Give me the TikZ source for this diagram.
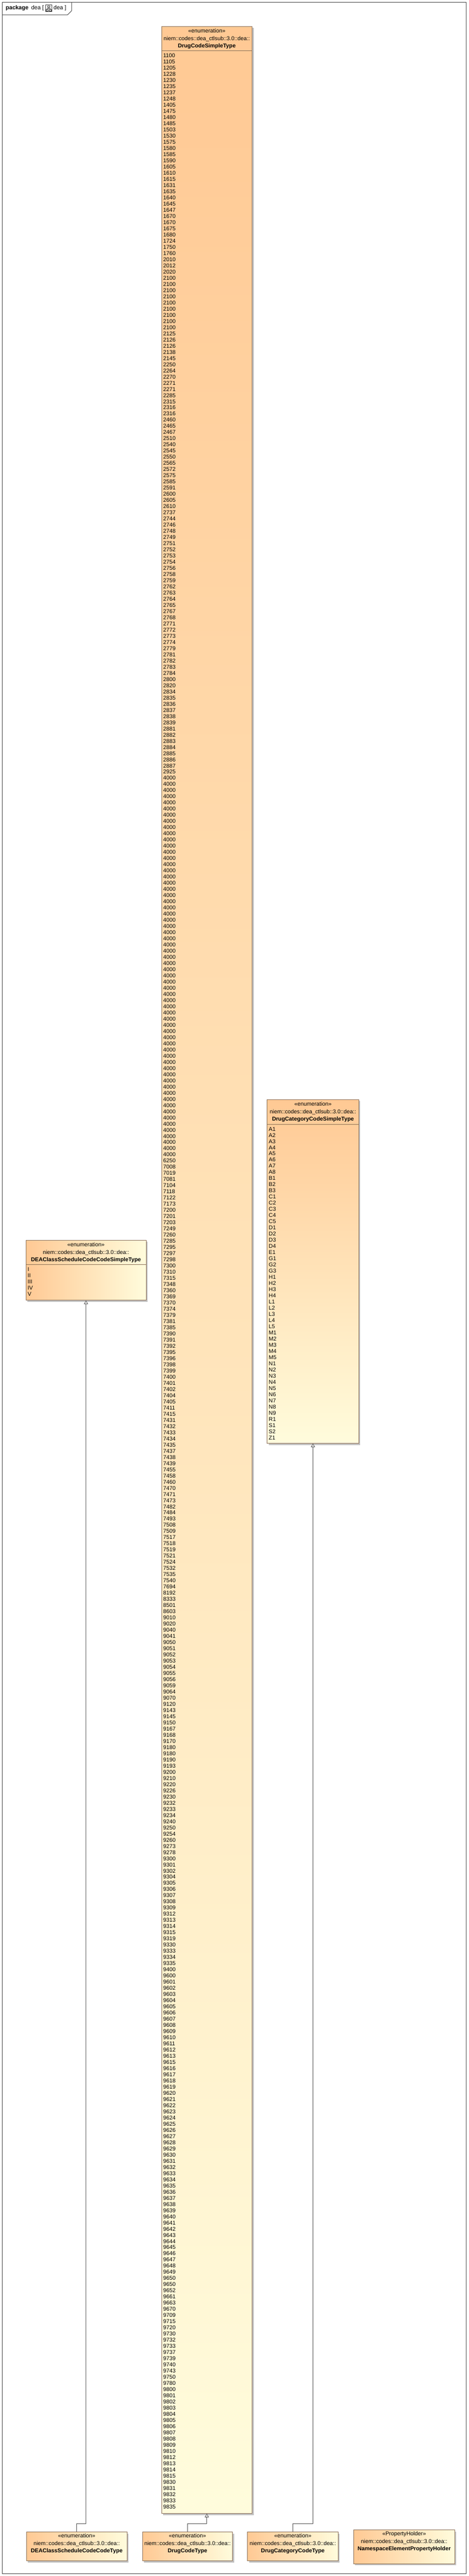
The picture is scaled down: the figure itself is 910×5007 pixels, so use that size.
\documentclass[tikz,border=0pt]{standalone}
\usepackage{fontspec}
\setmainfont{Liberation Sans}
\usetikzlibrary{positioning,shadows,arrows.meta}

\definecolor{boxtop}{HTML}{FFC994}
\definecolor{boxbot}{HTML}{FFFCDC}
\definecolor{boxline}{HTML}{8C6E55}
\definecolor{linkgray}{HTML}{505050}
\definecolor{framegray}{HTML}{404040}

\tikzset{
  umlbox/.style={draw=boxline, line width=0.8pt, inner sep=0pt, anchor=north west,
    drop shadow={shadow xshift=3pt, shadow yshift=-3pt, fill=black!40, opacity=0.6}},
  tallbox/.style={umlbox, top color=boxtop, bottom color=boxbot},
  widebox/.style={umlbox, left color=boxtop, right color=boxbot},
  hdr/.style={inner sep=0pt, text height=7.8pt, text depth=2.2pt, font=\fontsize{10.8}{12}\selectfont},
  hdrname/.style={hdr, font=\fontsize{10.8}{12}\selectfont\bfseries},
  hdrline/.style={draw=boxline, line width=0.8pt},
  entries/.style={anchor=north west, inner sep=0pt, font=\fontsize{10.8}{12}\selectfont},
  genlink/.style={draw=linkgray, line width=0.8pt, -{Triangle[length=7pt, width=8pt, fill=white]}},
  pkgframe/.style={draw=framegray, line width=1pt},
  pkgtext/.style={inner sep=0pt, font=\fontsize{11}{13}\selectfont},
}

\begin{document}
\begin{tikzpicture}[x=1pt,y=1pt]
  \useasboundingbox (0,0) rectangle (910,-5007);

  %----------------------------------------------------------------
  % package frame
  \draw [pkgframe] (5,-5) rectangle (905,-5002);
  \draw [pkgframe] (5,-29) -- (131,-29) -- (139,-21) -- (139,-5);
  \node [pkgtext, anchor=west] (pkgKw) at (11,-16) {\bfseries package};
  \node [pkgtext, base right=5pt of pkgKw] (pkgName) {dea [};
  \node [draw=framegray, line width=0.6pt, minimum width=12, minimum height=13, inner sep=0pt, right=3pt of pkgName] (pkgIcon) {};
  \draw [framegray, line width=0.5pt] ([shift={(-2,2)}]pkgIcon.center) rectangle ([shift={(2,5)}]pkgIcon.center);
  \draw [framegray, line width=0.5pt] ([shift={(-5,-5)}]pkgIcon.center) rectangle ([shift={(-1,-2)}]pkgIcon.center);
  \draw [framegray, line width=0.5pt] ([shift={(1,-5)}]pkgIcon.center) rectangle ([shift={(5,-2)}]pkgIcon.center);
  \draw [framegray, line width=0.5pt] ([shift={(0,2)}]pkgIcon.center) -- ([shift={(0,0)}]pkgIcon.center);
  \draw [framegray, line width=0.5pt] ([shift={(-3,-2)}]pkgIcon.center) |- ([shift={(3,0)}]pkgIcon.center) -- ([shift={(3,-2)}]pkgIcon.center);
  \node [pkgtext, right=3pt of pkgIcon] (pkgDiag) {dea ]};

  %----------------------------------------------------------------
  % DrugCodeSimpleType
  \node [tallbox, minimum width=176, minimum height=4834] (dcSimple) at (313,-51) {};
  \node [hdr] (dcStereo) at ([yshift=-10pt]dcSimple.north) {«enumeration»};
  \node [hdr] (dcNs) at ([yshift=-25pt]dcSimple.north) {niem::codes::dea\_ctlsub::3.0::dea::};
  \node [hdrname] (dcName) at ([yshift=-39pt]dcSimple.north) {DrugCodeSimpleType};
  \draw [hdrline] ([yshift=-48pt]dcSimple.north west) -- ([yshift=-48pt]dcSimple.north east);
  \node [entries] (dcList) at ([xshift=3.5pt,yshift=-52.5pt]dcSimple.north west) {%
\begin{tabular}[t]{@{}l@{}}
1100\\1105\\1205\\1228\\1230\\1235\\1237\\1248\\1405\\1475\\
1480\\1485\\1503\\1530\\1575\\1580\\1585\\1590\\1605\\1610\\
1615\\1631\\1635\\1640\\1645\\1647\\1670\\1670\\1675\\1680\\
1724\\1750\\1760\\2010\\2012\\2020\\2100\\2100\\2100\\2100\\
2100\\2100\\2100\\2100\\2100\\2125\\
2126\\2126\\2138\\2145\\2250\\2264\\2270\\2271\\2271\\2285\\
2315\\2316\\2316\\2460\\2465\\2467\\2510\\2540\\2545\\2550\\
2565\\2572\\2575\\2585\\2591\\2600\\2605\\2610\\2737\\2744\\
2746\\2748\\2749\\2751\\2752\\2753\\2754\\2756\\2758\\2759\\
2762\\2763\\2764\\2765\\2767\\2768\\2771\\2772\\2773\\2774\\
2779\\2781\\2782\\2783\\2784\\2800\\2820\\2834\\2835\\2836\\
2837\\2838\\2839\\2881\\2882\\2883\\2884\\2885\\2886\\2887\\
2925\\
4000\\4000\\4000\\4000\\4000\\4000\\4000\\4000\\4000\\4000\\
4000\\4000\\4000\\4000\\4000\\4000\\4000\\4000\\4000\\4000\\
4000\\4000\\4000\\4000\\4000\\4000\\4000\\4000\\4000\\4000\\
4000\\4000\\4000\\4000\\4000\\4000\\4000\\4000\\4000\\4000\\
4000\\4000\\4000\\4000\\4000\\4000\\4000\\4000\\4000\\4000\\
4000\\4000\\4000\\4000\\4000\\4000\\4000\\4000\\4000\\4000\\
4000\\4000\\
6250\\7008\\7019\\7081\\7104\\7118\\7122\\7173\\7200\\7201\\
7203\\7249\\7260\\7285\\7295\\7297\\7298\\7300\\7310\\
7315\\7348\\7360\\7369\\7370\\7374\\7379\\7381\\7385\\7390\\
7391\\7392\\7395\\7396\\7398\\7399\\7400\\7401\\7402\\7404\\
7405\\7411\\7415\\7431\\7432\\7433\\7434\\7435\\7437\\7438\\
7439\\7455\\7458\\7460\\7470\\7471\\7473\\7482\\7484\\7493\\
7508\\7509\\7517\\7518\\7519\\7521\\7524\\7532\\7535\\7540\\
7694\\
8192\\8333\\8501\\8603\\9010\\9020\\9040\\9041\\9050\\9051\\
9052\\9053\\9054\\9055\\9056\\9059\\9064\\9070\\9120\\9143\\
9145\\9150\\9167\\9168\\9170\\9180\\9180\\9190\\9193\\9200\\
9210\\9220\\9226\\9230\\9232\\9233\\9234\\9240\\9250\\9254\\
9260\\9273\\9278\\9300\\9301\\9302\\9304\\9305\\9306\\9307\\
9308\\
9309\\9312\\9313\\9314\\9315\\9319\\9330\\9333\\9334\\9335\\
9400\\9600\\9601\\9602\\9603\\9604\\9605\\9606\\9607\\9608\\
9609\\9610\\9611\\9612\\9613\\9615\\9616\\9617\\9618\\9619\\
9620\\9621\\9622\\9623\\9624\\9625\\9626\\9627\\9628\\9629\\
9630\\9631\\9632\\9633\\9634\\9635\\9636\\9637\\9638\\9639\\
9640\\
9641\\9642\\9643\\9644\\9645\\9646\\9647\\9648\\9649\\9650\\
9650\\9652\\9661\\9663\\9670\\9709\\9715\\9720\\9730\\9732\\
9733\\9737\\9739\\9740\\9743\\9750\\9780\\9800\\9801\\9802\\
9803\\9804\\9805\\9806\\9807\\9808\\9809\\9810\\9812\\9813\\
9814\\9815\\9830\\9831\\9832\\9833\\9835
\end{tabular}};

  %----------------------------------------------------------------
  % DrugCategoryCodeSimpleType
  \node [tallbox, minimum width=178, minimum height=668] (catSimple) at (518,-2137) {};
  \node [hdr] (catStereo) at ([yshift=-10pt]catSimple.north) {«enumeration»};
  \node [hdr] (catNs) at ([yshift=-25pt]catSimple.north) {niem::codes::dea\_ctlsub::3.0::dea::};
  \node [hdrname] (catName) at ([yshift=-39pt]catSimple.north) {DrugCategoryCodeSimpleType};
  \draw [hdrline] ([yshift=-48pt]catSimple.north west) -- ([yshift=-48pt]catSimple.north east);
  \node [entries] (catList) at ([xshift=3.5pt,yshift=-52.5pt]catSimple.north west) {%
\begin{tabular}[t]{@{}l@{}}
A1\\A2\\A3\\A4\\A5\\A6\\A7\\A8\\B1\\B2\\B3\\C1\\C2\\C3\\C4\\C5\\D1\\D2\\D3\\D4\\
E1\\G1\\G2\\G3\\H1\\H2\\H3\\H4\\L1\\L2\\L3\\L4\\L5\\M1\\M2\\M3\\M4\\M5\\
N1\\N2\\N3\\N4\\N5\\N6\\N7\\N8\\N9\\R1\\S1\\S2\\Z1
\end{tabular}};

  %----------------------------------------------------------------
  % DEAClassScheduleCodeCodeSimpleType
  \node [widebox, minimum width=233, minimum height=117] (deaSimple) at (50,-2410) {};
  \node [hdr] (deaStereo) at ([yshift=-10pt]deaSimple.north) {«enumeration»};
  \node [hdr] (deaNs) at ([yshift=-25pt]deaSimple.north) {niem::codes::dea\_ctlsub::3.0::dea::};
  \node [hdrname] (deaName) at ([yshift=-39pt]deaSimple.north) {DEAClassScheduleCodeCodeSimpleType};
  \draw [hdrline] ([yshift=-48pt]deaSimple.north west) -- ([yshift=-48pt]deaSimple.north east);
  \node [entries] (deaList) at ([xshift=3.5pt,yshift=-52.5pt]deaSimple.north west) {%
\begin{tabular}[t]{@{}l@{}}
I\\II\\III\\IV\\V
\end{tabular}};

  %----------------------------------------------------------------
  % bottom row
  \node [widebox, minimum width=195, minimum height=56] (deaType) at (51,-4921) {};
  \node [hdr] (deaTypeStereo) at ([yshift=-9pt]deaType.north) {«enumeration»};
  \node [hdr] (deaTypeNs) at ([yshift=-24pt]deaType.north) {niem::codes::dea\_ctlsub::3.0::dea::};
  \node [hdrname] (deaTypeName) at ([yshift=-38pt]deaType.north) {DEAClassScheduleCodeCodeType};

  \node [widebox, minimum width=175, minimum height=56] (dcType) at (276,-4921) {};
  \node [hdr] (dcTypeStereo) at ([yshift=-9pt]dcType.north) {«enumeration»};
  \node [hdr] (dcTypeNs) at ([yshift=-24pt]dcType.north) {niem::codes::dea\_ctlsub::3.0::dea::};
  \node [hdrname] (dcTypeName) at ([yshift=-38pt]dcType.north) {DrugCodeType};

  \node [widebox, minimum width=176, minimum height=56] (catType) at (480,-4921) {};
  \node [hdr] (catTypeStereo) at ([yshift=-9pt]catType.north) {«enumeration»};
  \node [hdr] (catTypeNs) at ([yshift=-24pt]catType.north) {niem::codes::dea\_ctlsub::3.0::dea::};
  \node [hdrname] (catTypeName) at ([yshift=-38pt]catType.north) {DrugCategoryCodeType};

  \node [widebox, minimum width=196, minimum height=66] (propHolder) at (686,-4917) {};
  \node [hdr] (propStereo) at ([yshift=-9pt]propHolder.north) {«PropertyHolder»};
  \node [hdr] (propNs) at ([yshift=-24pt]propHolder.north) {niem::codes::dea\_ctlsub::3.0::dea::};
  \node [hdrname] (propName) at ([yshift=-38pt]propHolder.north) {NamespaceElementPropertyHolder};

  %----------------------------------------------------------------
  % generalizations
  \draw [genlink] (deaType.north) -- ++(0,16) -| (deaSimple.south);
  \draw [genlink] (dcType.north) -- ++(0,16) -| (dcSimple.south);
  \draw [genlink] (catType.north) -- ++(0,16) -| (catSimple.south);

\end{tikzpicture}
\end{document}
